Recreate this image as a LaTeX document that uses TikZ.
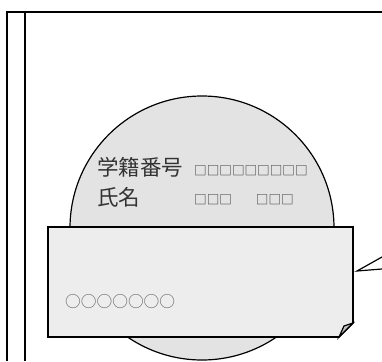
\documentclass[tikz,border=0pt]{standalone}
\usepackage{fontspec}
\newfontfamily\jpfont{Noto Sans CJK JP}
\definecolor{discgray}{HTML}{E3E3E3}
\definecolor{notegray}{HTML}{EDEDED}
\definecolor{foldgray}{HTML}{C4C4C4}
\definecolor{inkgray}{HTML}{333333}
\tikzset{
  label text/.style={anchor=west, inner sep=0pt, text=inkgray, font=\jpfont\fontsize{21.5}{24}\selectfont},
  box text/.style={anchor=west, inner sep=0pt, text=inkgray, font=\jpfont\fontsize{12.6}{14}\selectfont},
  ring text/.style={anchor=west, inner sep=0pt, text=black!60, font=\jpfont\fontsize{15.7}{18}\selectfont}
}
\begin{document}
\begin{tikzpicture}[x=1pt, y=-1pt]
        \useasboundingbox (0,0) rectangle (382,361);

        % frame
        \draw[black, line width=2pt] (7,361) -- (7,12) -- (382,12);
        \draw[black, line width=2pt] (25,12) -- (25,361);

        % disc behind the note
        \filldraw[fill=discgray, draw=black, line width=1.2pt] (202,228) circle[radius=132pt];

        \node[label text] (idlabel) at (97,167) {学籍番号};
        \node[label text] (namelabel) at (97,197) {氏名};
        \node[box text] (idboxes) at (194,171) {□□□□□□□□□};
        \node[box text] (nameboxes) at (194,200) {□□□\hspace{24pt}□□□};

        % note with folded corner
        \filldraw[fill=notegray, draw=black, line width=1.6pt]
            (48,227) -- (353,227) -- (353,323) -- (339,337) -- (48,337) -- cycle;
        \filldraw[fill=foldgray, draw=black, line width=1.2pt]
            (353,323) -- (344,326) -- (339,337) -- cycle;
        \node[ring text] (rings) at (65,302) {○○○○○○○};

        % pointer of the call-out
        \coordinate (tip) at (357,271);
        \draw[black, line width=1.2pt] (382,257) -- (tip) -- (382,269);
\end{tikzpicture}
\end{document}
